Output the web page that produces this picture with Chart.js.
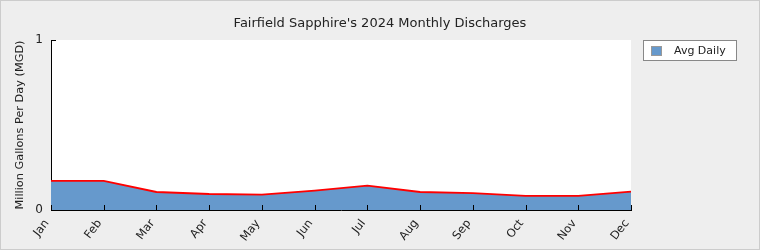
<!DOCTYPE html>
<html>
<head>
<meta charset="utf-8">
<script src="https://cdn.jsdelivr.net/npm/chart.js@4/dist/chart.umd.min.js"></script>
<style>
html,body{margin:0;padding:0;background:#eeeeee;}
#wrap{width:760px;height:250px;}
</style>
</head>
<body>
<div id="wrap"><canvas id="c" width="760" height="250"></canvas></div>
<script>
const chartTitle = "Fairfield Sapphire's 2024 Monthly Discharges";
const yAxisTitle = "Million Gallons Per Day (MGD)";
const seriesName = "Avg Daily";
const months = ["Jan","Feb","Mar","Apr","May","Jun","Jul","Aug","Sep","Oct","Nov","Dec"];
const avgDaily = [0.171, 0.171, 0.106, 0.094, 0.090, 0.114, 0.143, 0.106, 0.099, 0.083, 0.083, 0.108];
const yTickValues = [0, 1];

const FONT = "'DejaVu Sans', sans-serif";
const FILL = "#6699cc";
const LINE = "#ff0000";

const decor = {
  id: "decor",
  beforeDraw(chart) {
    const ctx = chart.ctx, a = chart.chartArea;
    ctx.save();
    ctx.fillStyle = "#eeeeee";
    ctx.fillRect(0, 0, chart.width, chart.height);
    ctx.strokeStyle = "#cccccc";
    ctx.lineWidth = 1;
    ctx.strokeRect(0.5, 0.5, chart.width - 1, chart.height - 1);
    ctx.fillStyle = "#ffffff";
    ctx.fillRect(a.left, a.top, a.right - a.left, a.bottom - a.top);
    ctx.restore();
  },
  afterDraw(chart) {
    const ctx = chart.ctx, a = chart.chartArea;
    const xs = chart.scales.x, ys = chart.scales.y;
    ctx.save();
    ctx.fillStyle = "#222222";
    ctx.font = "13px " + FONT;
    ctx.textAlign = "center";
    ctx.textBaseline = "middle";
    ctx.fillText(chartTitle, chart.width / 2, 24);
    ctx.strokeStyle = "#000000";
    ctx.lineWidth = 1;
    ctx.beginPath();
    xs.ticks.forEach((t, i) => {
      const x = Math.round(xs.getPixelForTick(i)) + 0.5;
      ctx.moveTo(x, a.bottom);
      ctx.lineTo(x, a.bottom - 5);
    });
    ys.ticks.forEach((t, i) => {
      const y = Math.round(ys.getPixelForTick(i)) + 0.5;
      ctx.moveTo(a.left, y);
      ctx.lineTo(a.left + 5, y);
    });
    ctx.stroke();
    const lx = 643, ly = 40, lw = 94, lh = 21;
    ctx.fillStyle = "#ffffff";
    ctx.fillRect(lx, ly, lw, lh);
    ctx.strokeStyle = "#888888";
    ctx.strokeRect(lx + 0.5, ly + 0.5, lw - 1, lh - 1);
    ctx.fillStyle = FILL;
    ctx.fillRect(651, 46, 11, 10);
    ctx.strokeStyle = "#999999";
    ctx.strokeRect(651.5, 46.5, 10, 9);
    ctx.fillStyle = "#222222";
    ctx.font = "11px " + FONT;
    ctx.textAlign = "left";
    ctx.textBaseline = "middle";
    ctx.fillText(seriesName, 674, 51);
    ctx.restore();
  }
};

new Chart(document.getElementById("c"), {
  type: "line",
  data: {
    labels: months,
    datasets: [{
      label: seriesName,
      data: avgDaily,
      borderColor: LINE,
      backgroundColor: FILL,
      borderWidth: 1.8,
      fill: "origin",
      tension: 0,
      pointRadius: 0,
      pointHoverRadius: 0
    }]
  },
  options: {
    responsive: false,
    animation: false,
    devicePixelRatio: 1,
    layout: { padding: { top: 40, right: 129, left: 0, bottom: 0 } },
    plugins: {
      legend: { display: false },
      title: { display: false },
      tooltip: { enabled: false }
    },
    scales: {
      x: {
        offset: false,
        grid: { display: false, drawTicks: false },
        border: { display: true, color: "#000000", width: 1 },
        ticks: {
          color: "#222222",
          font: { family: FONT, size: 11.5 },
          maxRotation: 52, minRotation: 52,
          autoSkip: false,
          padding: 7,
          labelOffset: -4
        },
        afterFit(s) { s.height = 40; }
      },
      y: {
        min: 0, max: 1,
        afterBuildTicks(s) { s.ticks = yTickValues.map(v => ({ value: v })); },
        grid: { display: false, drawTicks: false },
        border: { display: true, color: "#000000", width: 1 },
        ticks: {
          color: "#222222",
          font: { family: FONT, size: 12 },
          padding: 8
        },
        title: {
          display: true,
          text: yAxisTitle,
          color: "#222222",
          font: { family: FONT, size: 11.3 },
          padding: { top: 13, bottom: 0 }
        },
        afterFit(s) { s.width = 51; }
      }
    }
  },
  plugins: [decor]
});
</script>
</body>
</html>
